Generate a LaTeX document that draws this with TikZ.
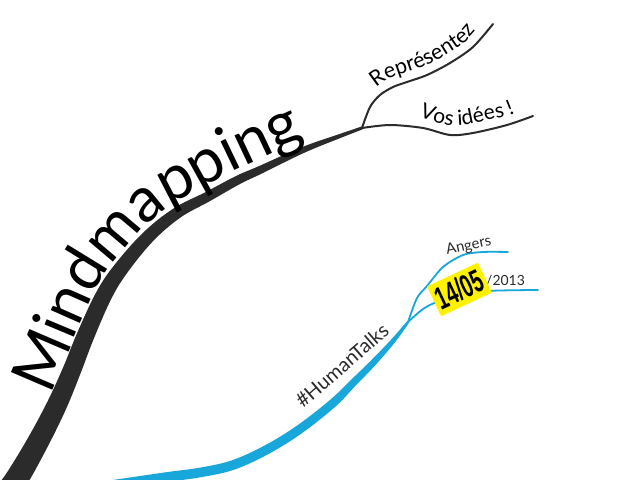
\documentclass[tikz,border=0pt]{standalone}
\usepackage{fontspec}
\setmainfont{Lato}
\newfontfamily\datefont{Liberation Sans}
\usetikzlibrary{decorations.text}
\definecolor{ink}{HTML}{2B2B2B}
\definecolor{skyb}{HTML}{17A7DA}
\definecolor{yel}{HTML}{FFF200}
\begin{document}
\begin{tikzpicture}[x=1bp,y=-1bp,
  inkbranch/.style={draw=ink, line width=2bp, line cap=round},
  bluebranch/.style={draw=skyb, line width=1.8bp, line cap=round},
  lbl/.style={text=ink, inner sep=0pt, anchor=base west}]
\useasboundingbox (0,0) rectangle (640,480);
\fill[white] (0,0) rectangle (640,480);

% ---- black trunk (tapered) ----
\fill[ink] plot[smooth, tension=0.6] coordinates {(13,502) (26,486) (47.5,447) (66,409.1) (80.5,373.5) (93.1,340.4) (110.3,300.8) (126,274.5) (152.6,241.6) (180.2,217.7) (209.4,201.4) (240,184) (261.7,173.6) (304.2,152.8) (340.7,137.9) (362.3,129.5)}
  -- plot[smooth, tension=0.6] coordinates {(361.7,126.5) (339.3,134.1) (301.8,147.2) (258.3,166.4) (236,176) (204.6,192.6) (173.8,208.3) (143.4,232.4) (114,265.5) (95.7,293.2) (76.9,333.6) (63.5,366.5) (48,400.5) (28.5,437) (6,474) (-5.5,488)} -- cycle;
\coordinate (bk) at (362,128);
\draw[inkbranch] plot[smooth] coordinates {(bk) (370,107) (380,95) (393,87) (407,82) (427,75) (450,63) (473,47) (493,24)};
\draw[inkbranch] plot[smooth] coordinates {(bk) (390,125) (423,128) (450,135) (473,133) (507,125) (533,116)};

% ---- blue trunk (tapered) ----
\fill[skyb] plot[smooth, tension=0.6] coordinates {(110.6,489.5) (167.7,481.8) (200.9,477.2) (234.4,469.6) (269.2,453.6) (302.7,432.6) (335.8,406.2) (355.6,385.6) (375.3,365.2) (394.8,342.5) (409.1,322.7)}
  -- plot[smooth, tension=0.6] coordinates {(406.9,321.4) (391.2,339.5) (370.7,360.8) (350.4,380.4) (330.2,399.8) (297.3,425.4) (264.8,445.4) (231.6,460.4) (199.1,467.8) (166.3,472.2) (109.4,480.5)} -- cycle;
\coordinate (bb) at (408,322);
\draw[bluebranch] plot[smooth] coordinates {(bb) (417,298) (427,286) (443,267) (463,255) (483,252) (508,252)};
\draw[bluebranch] plot[smooth] coordinates {(bb) (423,309) (437,302) (460,296) (488,291) (538,290)};

% ---- texts ----
\path[ink, decorate, decoration={text along path, text={|\fontsize{63}{63}\selectfont|Mindmapping}}]
  plot[smooth] coordinates {(50,395) (62.8,366.2) (75.8,333.1) (94.1,292.4) (112,264) (140.9,229.9) (171.4,204.7) (202.2,188.2) (233.5,171.1) (255.8,160.9) (299.1,140.8) (336.5,126.6) (380,112) (420,100)};
\path[ink, decorate, decoration={text along path, text={|\fontsize{21.5}{21.5}\selectfont|Représentez}}]
  plot[smooth] coordinates {(376,88) (388.6,79.2) (404,73.5) (423.1,66.9) (445,55.5) (466.8,40.5) (486.2,18.2) (500,2)};
\path[ink, decorate, decoration={text along path, text={|\fontsize{21}{21}\selectfont|Vos idées !}}]
  plot[smooth] coordinates {(419,116) (435,122) (450,125.5) (462,125.5) (473,123.5) (490,119.5) (507,116) (525,109) (545,103)};

\node[lbl, rotate=41, font=\fontsize{20}{20}\selectfont] (ht) at (303,409) {\#HumanTalks};
\node[lbl, rotate=12, font=\fontsize{15}{15}\selectfont] (ang) at (447,255) {Angers};
\node[lbl, font=\fontsize{14}{14}\selectfont] (yr) at (486,285) {/2013};
\node[fill=yel, rotate=25, minimum width=56bp, minimum height=33bp, inner sep=0pt] (date) at (459.5,289.5)
  {\datefont\bfseries\fontsize{32}{32}\selectfont\scalebox{0.62}[1]{14/05}};
\end{tikzpicture}
\end{document}
